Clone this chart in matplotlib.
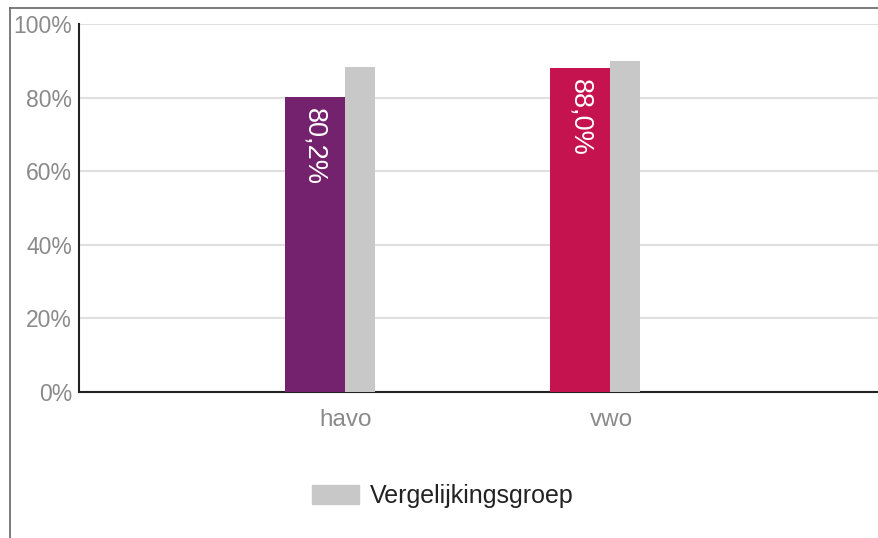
import matplotlib.pyplot as plt
import numpy as np
from matplotlib.lines import Line2D
from matplotlib.patches import Patch
from matplotlib.ticker import FuncFormatter

# Data
categories = ["havo", "vwo"]
school = [80.2, 88.0]
comparison = [88.4, 89.9]
school_colors = ["#74216e", "#c51350"]
comparison_color = "#c8c8c8"

plt.rcParams["font.family"] = ["Liberation Sans", "DejaVu Sans"]

fig = plt.figure(figsize=(8.79, 5.38), dpi=100)
ax = fig.add_axes([0.0899, 0.2714, 0.9101, 0.684])

x = np.arange(len(categories))
ax.bar(x - 0.117, school, width=0.226, color=school_colors, zorder=3)
ax.bar(x + 0.053, comparison, width=0.113, color=comparison_color, zorder=3)

# Value labels inside the school bars, rotated
for xi, v in zip(x, school):
    ax.text(xi - 0.117, v - 3, f"{v:.1f}%".replace(".", ","), rotation=-90,
            ha="center", va="top", color="white", fontsize=19.5, zorder=4)

ax.set_xlim(-1.005, 2.008)
ax.set_ylim(0, 100)
ax.set_yticks(np.arange(0, 101, 20))
ax.yaxis.set_major_formatter(FuncFormatter(lambda v, p: f"{v:.0f}%"))
ax.set_xticks(x)
ax.set_xticklabels(categories)
ax.tick_params(axis="both", length=0, labelcolor="#8a8a8a")
ax.tick_params(axis="x", pad=12, labelsize=17.5)
ax.tick_params(axis="y", pad=5, labelsize=16.5)

ax.grid(axis="y", color="#e0e0e0", linewidth=1.5, zorder=0)
for side in ["top", "right"]:
    ax.spines[side].set_visible(False)
ax.spines["left"].set_color("#222222")
ax.spines["bottom"].set_color("#222222")
ax.spines["left"].set_linewidth(1.5)
ax.spines["bottom"].set_linewidth(1.5)

# Screenshot frame
fig.add_artist(Line2D([10 / 879, 1], [1 - 8 / 538, 1 - 8 / 538], color="#666666", lw=1.2))
fig.add_artist(Line2D([10 / 879, 10 / 879], [0, 1 - 8 / 538], color="#666666", lw=1.2))

fig.legend(handles=[Patch(color=comparison_color, label="Vergelijkingsgroep")],
           loc="center", bbox_to_anchor=(0.504, 0.078), frameon=False,
           fontsize=18, labelcolor="#222222", handlelength=1.88, handleheight=0.76,
           handletextpad=0.44)

fig.savefig("out.png", dpi=100, facecolor="white")
